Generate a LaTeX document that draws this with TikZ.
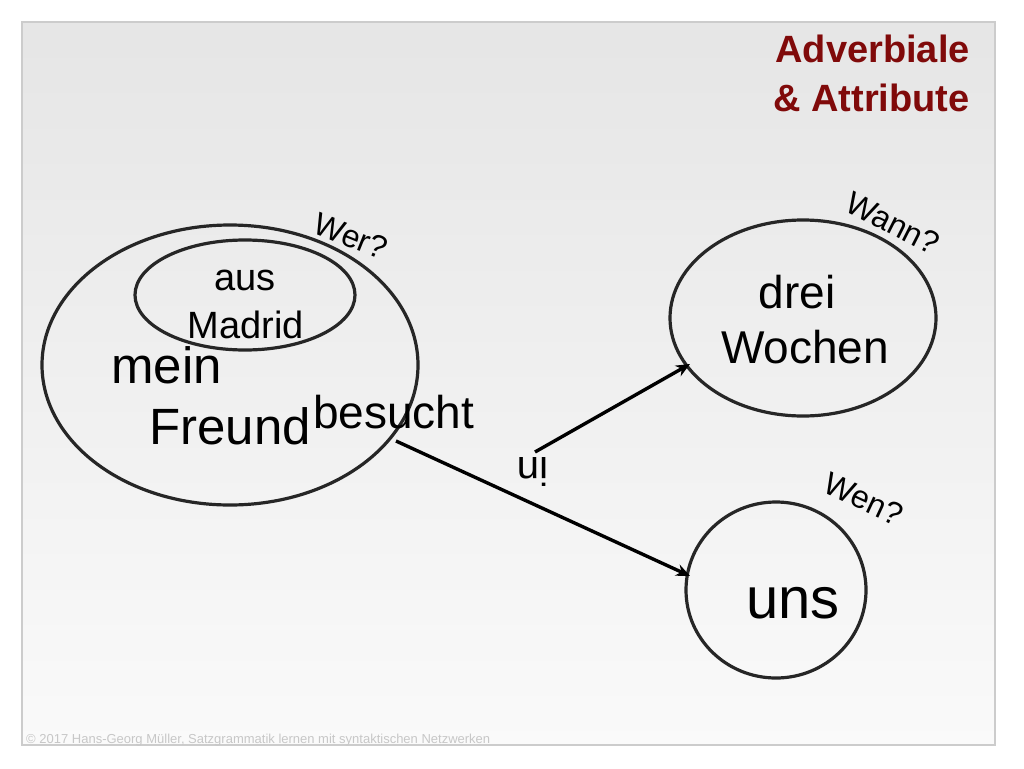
\documentclass[tikz,border=0pt]{standalone}
\usepackage{fontspec}
\setmainfont{Liberation Sans}
\usetikzlibrary{arrows.meta}
\definecolor{titlered}{RGB}{128,10,10}
\tikzset{
  ring/.style={draw=black!85,line width=3.2pt},
  word/.style={inner sep=0pt,anchor=base},
  ask/.style={inner sep=0pt,font=\fontsize{32}{34}\selectfont},
  link/.style={draw=black,line width=3.4pt,-{Stealth[length=14pt,width=12pt]}}
}
\begin{document}
\begin{tikzpicture}[x=1pt,y=-1pt]
\useasboundingbox (0,0) rectangle (1024,768);
\fill[white] (0,0) rectangle (1024,768);
\shade[top color=black!10,bottom color=black!2,draw=black!20,line width=1.5pt] (22,22) rectangle (995,745);
% title
\node[word,anchor=base east,font=\bfseries\fontsize{38}{40}\selectfont,text=titlered] (t1) at (970,63) {Adverbiale};
\node[word,anchor=base east,font=\bfseries\fontsize{38}{40}\selectfont,text=titlered] (t2) at (970,111) {\& Attribute};
% circles
\draw[ring] (230,365) ellipse [x radius=188,y radius=140];
\draw[ring] (245,295) ellipse [x radius=110,y radius=55];
\draw[ring] (803,318) ellipse [x radius=133,y radius=98];
\draw[ring] (776,590) ellipse [x radius=90,y radius=88];
% words
\node[word,font=\fontsize{38}{40}\selectfont] (aus) at (245,290) {aus};
\node[word,font=\fontsize{38}{40}\selectfont] (madrid) at (246,338) {Madrid};
\node[word,anchor=base west,font=\fontsize{51}{53}\selectfont] (mein) at (111,383) {mein};
\node[word,anchor=base west,font=\fontsize{51}{53}\selectfont] (freund) at (149,444) {Freund};
\node[word,anchor=base west,font=\fontsize{46}{48}\selectfont] (besucht) at (313,428) {besucht};
\node[word,font=\fontsize{46}{48}\selectfont] (drei) at (797,308) {drei};
\node[word,font=\fontsize{46}{48}\selectfont] (wochen) at (805,363) {Wochen};
\node[word,font=\fontsize{58}{60}\selectfont] (uns) at (793,618) {uns};
\node[inner sep=0pt,rotate=180,font=\fontsize{40}{42}\selectfont] (in) at (533,472) {in};
% questions
\node[ask,rotate=-22] (wer) at (351,236) {Wer?};
\node[ask,rotate=-27] (wann) at (893,223) {Wann?};
\node[ask,rotate=-25] (wen) at (864,499) {Wen?};
% arrows
\coordinate (s1) at (396,441);
\coordinate (s2) at (535,452);
\coordinate (e1) at (690,576);
\coordinate (e2) at (690,364);
\draw[link] (s1) -- (e1);
\draw[link] (s2) -- (e2);
% footer
\node[inner sep=0pt,anchor=base west,text=black!22,font=\fontsize{13}{14}\selectfont] (foot) at (26,743) {© 2017 Hans-Georg Müller, Satzgrammatik lernen mit syntaktischen Netzwerken};
\end{tikzpicture}
\end{document}
